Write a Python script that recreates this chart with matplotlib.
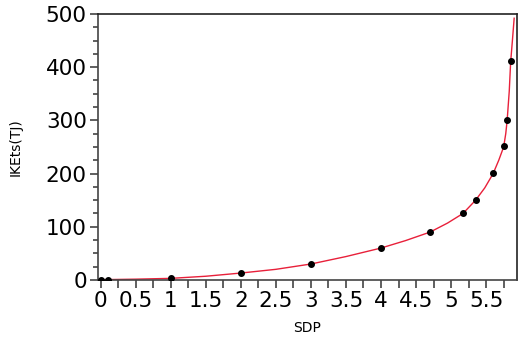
import matplotlib.pyplot as plt
from matplotlib.ticker import MultipleLocator

# Data points
sdp = [0, 0.1, 1, 2, 3, 4, 4.7, 5.17, 5.35, 5.6, 5.75, 5.8, 5.85]
iket = [0, 0.5, 4, 13, 30, 61, 91, 125, 150, 201, 251, 301, 411]

# Fitted curve
curve_x = [0, 0.5, 1, 1.5, 2, 2.5, 3, 3.5, 4, 4.35, 4.7, 4.95, 5.17, 5.35, 5.48,
           5.6, 5.68, 5.75, 5.78, 5.8, 5.83, 5.85, 5.875, 5.9]
curve_y = [0.5, 1.5, 3, 7, 13, 20, 30, 44, 60, 74, 90, 107, 125, 150, 173,
           200, 225, 250, 275, 300, 355, 410, 450, 492]

fig = plt.figure(figsize=(5.18, 3.41), dpi=100)
ax = fig.add_axes([0.189, 0.179, 0.809, 0.780])

ax.plot(curve_x, curve_y, color="#e8203a", linewidth=1.0, zorder=2)
ax.plot(sdp, iket, "o", color="black", markersize=4, zorder=3)

ax.set_xlim(-0.04, 5.94)
ax.set_ylim(0, 500)

ax.xaxis.set_major_locator(MultipleLocator(0.5))
ax.xaxis.set_minor_locator(MultipleLocator(0.25))
ax.yaxis.set_major_locator(MultipleLocator(100))
ax.yaxis.set_minor_locator(MultipleLocator(25))
ax.set_xticks([0, 0.5, 1, 1.5, 2, 2.5, 3, 3.5, 4, 4.5, 5, 5.5])
ax.set_xticklabels(["0", "0.5", "1", "1.5", "2", "2.5", "3", "3.5", "4", "4.5", "5", "5.5"])

ax.tick_params(axis="both", which="major", labelsize=15.5, colors="#444444",
               labelcolor="black", width=1.2)
ax.tick_params(axis="x", which="both", length=6, width=1.2, colors="#444444")
ax.tick_params(axis="y", which="major", length=6)
ax.tick_params(axis="y", which="minor", length=3.5, width=1.2, colors="#444444")
ax.tick_params(axis="x", which="major", pad=2, labelcolor="black")
ax.tick_params(axis="y", which="major", pad=2)

for s in ["left", "bottom"]:
    ax.spines[s].set_color("#444444")
    ax.spines[s].set_linewidth(1.2)
for s in ["top", "right"]:
    ax.spines[s].set_color("#222222")
    ax.spines[s].set_linewidth(1.2)

ax.set_xlabel("SDP", fontsize=10, labelpad=7)
ax.set_ylabel("IKEts(TJ)", fontsize=10, labelpad=17)

plt.savefig("out.png", dpi=100)
